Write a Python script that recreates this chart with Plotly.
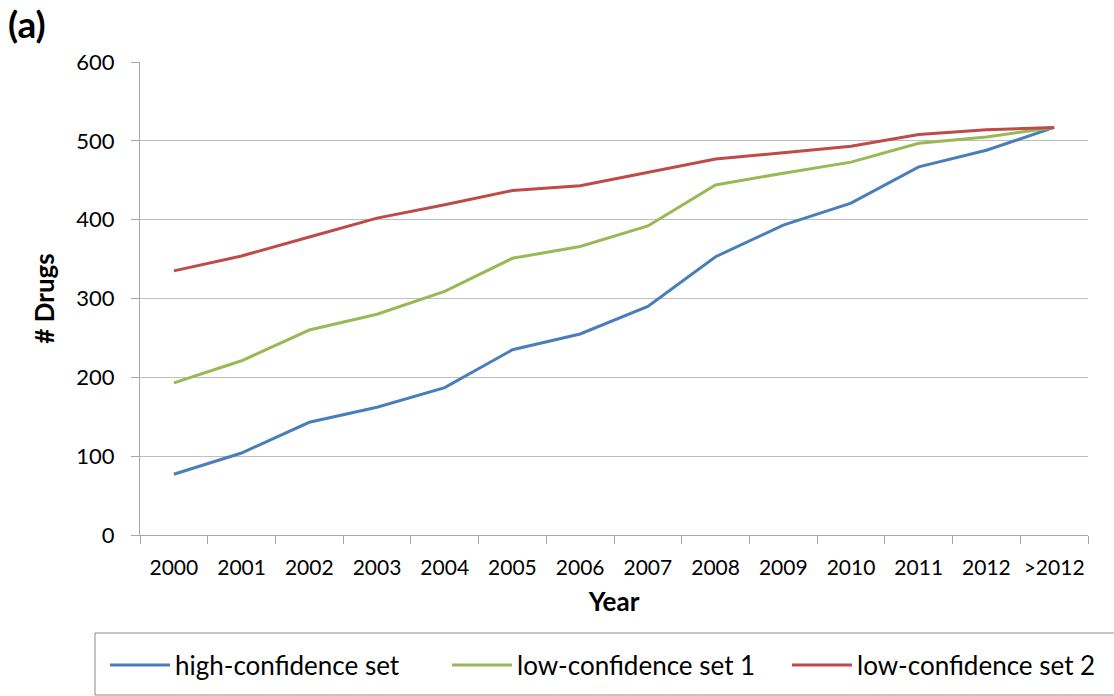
import plotly.graph_objects as go

years = ["2000", "2001", "2002", "2003", "2004", "2005", "2006", "2007",
         "2008", "2009", "2010", "2011", "2012", ">2012"]
high_conf = [77, 104, 143, 162, 187, 235, 255, 290, 353, 393, 421, 467, 488, 517]
low_conf1 = [193, 221, 260, 280, 309, 351, 366, 392, 444, 459, 473, 497, 505, 517]
low_conf2 = [335, 354, 378, 402, 419, 437, 443, 460, 477, 485, 493, 508, 514, 517]
series_names = ["high-confidence set", "low-confidence set 1", "low-confidence set 2"]
colors = ["#4a7ebb", "#98b954", "#be4b48"]

FONT = "Lato, Carlito, Calibri, sans-serif"
W, H = 1114, 696
ML, MR, MT, MB = 140, 26, 62, 161
PW = W - ML - MR
PH = H - MT - MB


def px_to_paper_x(px):
    return (px - ML) / PW


def px_to_paper_y(py):
    return (H - MB - py) / PH


fig = go.Figure()
legend_keys = ["legend", "legend2", "legend3"]
for vals, name, col, lg in zip([high_conf, low_conf1, low_conf2], series_names, colors, legend_keys):
    fig.add_trace(go.Scatter(
        x=years, y=vals, mode="lines", name=name,
        line=dict(color=col, width=3),
        legend=lg,
    ))

legend_common = dict(
    orientation="h", yanchor="middle", xanchor="left",
    font=dict(family=FONT, size=26, color="#000000"),
    bgcolor="rgba(0,0,0,0)", borderwidth=0, itemwidth=60,
)
legend_px = [105, 447, 787]
fig.update_layout(
    legend=dict(x=px_to_paper_x(legend_px[0]), y=px_to_paper_y(665), **legend_common),
    legend2=dict(x=px_to_paper_x(legend_px[1]), y=px_to_paper_y(665), **legend_common),
    legend3=dict(x=px_to_paper_x(legend_px[2]), y=px_to_paper_y(665), **legend_common),
)

# legend frame
fig.add_shape(type="rect", xref="paper", yref="paper",
              x0=px_to_paper_x(95), x1=px_to_paper_x(1125),
              y0=px_to_paper_y(695), y1=px_to_paper_y(633),
              line=dict(color="#8c8c8c", width=1), fillcolor="rgba(0,0,0,0)")

fig.update_layout(
    width=W, height=H,
    margin=dict(l=ML, r=MR, t=MT, b=MB, autoexpand=False),
    paper_bgcolor="white", plot_bgcolor="white",
    font=dict(family=FONT, size=22, color="#000000"),
    showlegend=True,
    xaxis=dict(
        type="category", tickson="boundaries",
        range=[-0.5, len(years) - 0.5], automargin=False,
        showline=True, linecolor="#a6a6a6", linewidth=1,
        ticks="outside", ticklen=8, tickcolor="#a6a6a6",
        showgrid=False, ticklabelstandoff=14, tickangle=0,
        tickfont=dict(family=FONT, size=21),
        title=dict(text="<b>Year</b>", font=dict(family=FONT, size=26), standoff=14),
    ),
    yaxis=dict(
        range=[0, 600], dtick=100, tick0=0, automargin=False,
        showline=True, linecolor="#a6a6a6", linewidth=1,
        ticks="outside", ticklen=8, tickcolor="#a6a6a6",
        showgrid=True, gridcolor="#bfbfbf", gridwidth=1,
        zeroline=False, ticklabelstandoff=12,
        tickfont=dict(family=FONT, size=22),
        title=dict(text="<b># Drugs</b>", font=dict(family=FONT, size=26), standoff=14),
    ),
    annotations=[dict(
        text="<b>(a)</b>", xref="paper", yref="paper",
        x=px_to_paper_x(6), y=px_to_paper_y(24),
        xanchor="left", yanchor="middle", showarrow=False,
        font=dict(family=FONT, size=37, color="#000000"),
    )],
)

fig.write_html("out.html", config={"displayModeBar": False},
               post_script="document.body.style.margin='0';document.body.style.overflow='hidden';")
